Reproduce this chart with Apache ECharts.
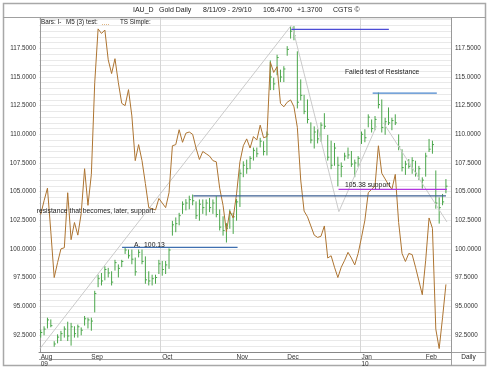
<!DOCTYPE html>
<html>
<head>
<meta charset="utf-8">
<title>IAU_D Gold Daily</title>
<script src="https://cdn.jsdelivr.net/npm/echarts@6/dist/echarts.min.js"></script>
<style>
  html, body { margin: 0; padding: 0; background: #fff; }
  #chart { width: 490px; height: 368px; }
</style>
</head>
<body>
<div id="chart"></div>
<script>
// x slots: one per trading day, 8/11/09 .. 2/9/10, plus one empty slot at the right
const slotCount = 122;
const monthNames = ['Aug', 'Sep', 'Oct', 'Nov', 'Dec', 'Jan', 'Feb'];
const monthStarts = [0, 15, 36, 58, 73, 95, 114];
const yearNames = ['09', '10'];
const yearStarts = [0, 95];
const priceLabels = [92.5, 95, 97.5, 100, 102.5, 105, 107.5, 110, 112.5, 115, 117.5];

// daily bars (high / low / close)
const barHigh = [
  92.9, 93.2, 93.95, 93.8, 91.9, 92.5, 92.8, 93.2, 93.6, 93.5,
  93.2, 93.35, 93.1, 94.1, 93.95, 93.95, 96.3, 97.7, 97.85, 98.45,
  98.3, 98.0, 99.0, 98.6, 99.0, 100.05, 99.9, 99.9, 99.2, 99.9,
  99.9, 99.3, 98.0, 97.7, 97.7, 99.0, 98.9, 98.9, 100.0, 102.4,
  102.7, 103.1, 104.1, 104.3, 104.6, 104.7, 104.1, 104.27, 104.27, 104.27,
  104.4, 104.27, 104.56, 103.4, 102.8, 102.2, 103.4, 103.1, 104.3, 106.9,
  107.6, 107.75, 108.05, 108.8, 108.8, 109.65, 109.35, 110.2, 116.4, 114.9,
  116.9, 115.6, 115.9, 117.65, 119.4, 119.4, 117.2, 114.75, 113.4, 113.0,
  111.0, 110.65, 110.4, 111.0, 111.8, 109.9, 109.4, 109.2, 108.0, 107.5,
  108.35, 108.8, 108.5, 107.75, 108.05, 110.2, 110.4, 111.7, 111.25, 111.55,
  113.6, 113.0, 111.4, 112.3, 111.4, 111.7, 109.95, 108.65, 107.65, 107.8,
  107.95, 107.65, 107.2, 106.2, 108.35, 109.55, 109.4, 106.8, 104.45, 104.75,
  106.05
];
const barLow = [
  92.3, 92.5, 93.1, 93.2, 91.5, 91.8, 92.0, 92.3, 92.0, 91.6,
  92.3, 92.3, 92.5, 93.35, 93.1, 92.9, 94.5, 96.7, 96.85, 97.3,
  97.55, 96.85, 98.15, 97.55, 98.45, 99.6, 99.2, 98.7, 97.7, 99.3,
  98.7, 97.0, 96.85, 96.85, 97.0, 97.85, 97.7, 97.85, 98.3, 101.2,
  101.5, 102.1, 103.1, 103.4, 103.5, 103.85, 102.65, 102.5, 103.1, 102.95,
  103.25, 103.1, 102.8, 101.65, 101.2, 100.6, 101.8, 101.35, 102.5, 103.7,
  106.3, 106.6, 107.0, 107.75, 108.05, 108.9, 108.2, 108.2, 113.9, 113.9,
  115.2, 114.6, 114.6, 116.9, 118.4, 118.25, 112.3, 113.0, 111.8, 111.0,
  109.25, 108.8, 109.25, 109.4, 110.5, 107.75, 107.0, 107.3, 105.5, 106.3,
  107.75, 107.9, 107.2, 106.3, 107.2, 109.2, 109.35, 110.65, 110.2, 110.4,
  112.3, 110.2, 110.0, 110.85, 110.4, 110.85, 108.65, 106.8, 106.5, 107.05,
  106.6, 106.35, 106.05, 105.3, 106.35, 108.5, 108.35, 103.55, 102.25, 103.85,
  104.9
];
const barClose = [
  92.7, 93.0, 93.8, 93.3, 91.7, 92.3, 92.6, 93.0, 92.4, 93.2,
  92.6, 93.2, 92.9, 93.9, 93.8, 93.7, 96.1, 97.4, 97.2, 98.2,
  97.9, 97.1, 98.8, 98.3, 98.9, 99.9, 99.4, 99.1, 98.0, 99.7,
  98.9, 97.3, 97.2, 97.4, 97.5, 98.7, 98.2, 98.6, 99.9, 102.1,
  102.2, 102.9, 103.9, 104.0, 104.3, 104.2, 102.9, 103.9, 103.6, 104.0,
  103.6, 104.0, 103.0, 101.9, 101.6, 101.8, 103.1, 102.8, 104.1, 106.6,
  107.3, 107.0, 107.9, 108.6, 108.3, 109.4, 108.5, 110.0, 115.0, 114.4,
  116.7, 115.0, 115.7, 117.4, 119.0, 118.6, 112.8, 113.4, 112.0, 111.3,
  109.5, 110.2, 109.6, 110.8, 110.7, 108.0, 107.3, 108.8, 107.3, 107.2,
  108.1, 108.2, 107.4, 107.5, 107.9, 110.0, 109.7, 111.5, 110.5, 111.3,
  112.6, 110.6, 111.1, 111.0, 111.2, 111.0, 108.9, 107.1, 107.4, 107.2,
  107.7, 106.6, 107.0, 106.0, 108.1, 108.7, 109.1, 104.0, 103.6, 104.1,
  105.47
];

// M5 (3) test study, drawn on the price scale
const m5Line = [
  103.0, 104.2, 105.3, 101.5, 97.5, 98.8, 100.0, 100.1, 104.9, 100.8,
  102.3, 101.2, 103.1, 107.0, 103.8, 106.5, 114.5, 119.2, 118.8, 119.1,
  116.5, 115.3, 116.6, 114.5, 112.7, 112.5, 113.9, 111.6, 107.7, 109.1,
  107.7, 105.7, 103.6, 103.5, 103.4, 104.4, 104.0, 103.6, 104.9, 109.0,
  109.1, 110.4, 109.3, 110.1, 110.2, 110.0, 108.8, 107.8, 108.5, 108.3,
  108.1, 107.7, 107.6, 105.3, 103.8, 101.5, 103.3, 102.7, 104.8, 107.6,
  109.0, 109.6, 108.8, 109.8, 109.5, 110.8, 109.7, 109.8, 116.3, 115.4,
  115.9, 112.7, 112.4, 112.8, 113.0, 112.4, 110.6, 106.0, 103.3, 102.8,
  102.0, 101.2, 101.0, 101.1, 102.0, 99.2, 99.4, 98.4, 97.5, 98.4,
  99.0, 99.7, 99.2, 98.6, 99.6, 101.0, 102.5, 104.9, 105.2, 105.5,
  109.0, 106.6, 106.1, 105.6, 105.2, 106.5, 102.3, 99.6, 98.9, 99.6,
  99.5, 98.4, 97.2, 96.0, 99.0, 102.7, 101.8, 93.0, 91.3, 94.0,
  96.9
];

// hand drawn lines, [bar index, price]
const trendUp = [[-0.2, 91.3], [74.2, 119.5]];
const trendDown = [[74.5, 119.4], [88.3, 103.25]];
const trendRebound = [[88.3, 103.25], [99.4, 110.7]];
const trendFall = [[101.5, 111.0], [120.3, 102.35]];
const lineA = [[24.1, 100.13], [58.3, 100.13]];
const lineMid = [[45.2, 104.62], [120.0, 104.62]];
const lineTop = [[74.2, 119.15], [103.1, 119.15]];
const lineFailed = [[98.3, 113.6], [117.3, 113.6]];
const lineSupport = [[88.2, 105.2], [120.3, 105.2]];

const FONT = '"Liberation Sans", Arial, sans-serif';
const categories = Array.from({ length: slotCount }, (_, i) => String(i));
const barRows = barHigh.map((h, i) => [i, h, barLow[i], barClose[i]]);

const chart = echarts.init(document.getElementById('chart'));

const drawLine = (data, color, width) => ({
  type: 'line',
  xAxisIndex: 1,
  data: data,
  symbol: 'none',
  silent: true,
  lineStyle: { color: color, width: width || 1 },
});

const option = {
  animation: false,
  grid: { left: 39, right: 39, top: 18, bottom: 16 },
  xAxis: [
    {
      // month labels and separators
      type: 'category',
      position: 'bottom',
      data: categories,
      boundaryGap: true,
      axisLine: { lineStyle: { color: '#888', width: 1 } },
      axisTick: {
        length: 7,
        interval: (i) => monthStarts.includes(i),
        lineStyle: { color: '#888' },
      },
      axisLabel: {
        interval: (i) => monthStarts.includes(i),
        formatter: (v) => {
          const k = monthStarts.indexOf(Number(v));
          return k >= 0 ? monthNames[k] : '';
        },
        align: 'left',
        margin: 1.5,
        fontSize: 6.5,
        fontFamily: FONT,
        color: '#333',
      },
      splitLine: {
        show: true,
        interval: (i) => i === monthStarts[2] || i === monthStarts[5],
        lineStyle: { color: '#d6d6d6', width: 1 },
      },
    },
    {
      // numeric twin of the day axis, used by all series
      type: 'value',
      position: 'bottom',
      show: false,
      min: -0.5,
      max: slotCount - 0.5,
    },
    {
      // year row
      type: 'category',
      position: 'bottom',
      data: categories,
      axisLine: { show: false },
      axisTick: {
        length: 14,
        interval: (i) => yearStarts.includes(i),
        lineStyle: { color: '#888' },
      },
      axisLabel: {
        interval: (i) => yearStarts.includes(i),
        formatter: (v) => {
          const k = yearStarts.indexOf(Number(v));
          return k >= 0 ? yearNames[k] : '';
        },
        align: 'left',
        margin: 8.5,
        fontSize: 6.5,
        fontFamily: FONT,
        color: '#333',
      },
      splitLine: { show: false },
    },
    {
      // weekly ticks along the date axis
      type: 'category',
      position: 'bottom',
      data: categories,
      axisLine: { show: false },
      axisTick: { inside: true, length: 2, interval: 4, lineStyle: { color: '#999' } },
      axisLabel: { show: false },
      splitLine: { show: false },
    },
  ],
  yAxis: [
    {
      type: 'value',
      position: 'left',
      min: 91,
      max: 120.15,
      interval: 0.5,
      axisLine: { show: true, lineStyle: { color: '#999' } },
      axisTick: { show: false },
      axisLabel: {
        formatter: (v) => (priceLabels.some((t) => Math.abs(t - v) < 1e-6) ? v.toFixed(4) : ''),
        margin: 3,
        fontSize: 6.3,
        fontFamily: FONT,
        color: '#333',
      },
      splitLine: { show: true, lineStyle: { color: '#e9e9e9', width: 1 } },
    },
    {
      type: 'value',
      position: 'right',
      min: 91,
      max: 120.15,
      interval: 0.5,
      axisLine: { show: true, lineStyle: { color: '#999' } },
      axisTick: { show: false },
      axisLabel: {
        formatter: (v) => (priceLabels.some((t) => Math.abs(t - v) < 1e-6) ? v.toFixed(4) : ''),
        margin: 4,
        fontSize: 6.3,
        fontFamily: FONT,
        color: '#333',
      },
      splitLine: { show: false },
    },
  ],
  series: [
    {
      // high-low bars with close tick
      type: 'custom',
      xAxisIndex: 1,
      data: barRows,
      encode: { x: 0, y: [1, 2, 3] },
      silent: true,
      renderItem: (params, api) => {
        const x = api.value(0);
        const hi = api.coord([x, api.value(1)]);
        const lo = api.coord([x, api.value(2)]);
        const cl = api.coord([x, api.value(3)]);
        const style = { stroke: '#4aa64a', lineWidth: 1 };
        return {
          type: 'group',
          children: [
            { type: 'line', shape: { x1: hi[0], y1: hi[1] - 0.5, x2: lo[0], y2: lo[1] + 0.5 }, style },
            { type: 'line', shape: { x1: cl[0], y1: cl[1], x2: cl[0] + 1.6, y2: cl[1] }, style },
          ],
        };
      },
    },
    drawLine(trendUp, '#cacaca'),
    drawLine(trendDown, '#cacaca'),
    drawLine(trendRebound, '#cacaca'),
    drawLine(trendFall, '#cacaca'),
    {
      type: 'line',
      name: 'M5 (3) test',
      xAxisIndex: 1,
      data: m5Line.map((v, i) => [i, v]),
      symbol: 'none',
      silent: true,
      lineStyle: { color: '#ad7431', width: 1 },
    },
    drawLine(lineA, '#3f6fb0', 1.3),
    drawLine(lineMid, '#3d5f92', 1.3),
    drawLine(lineTop, '#4c4cd6', 1.3),
    drawLine(lineFailed, '#4a86cc', 1.3),
    drawLine(lineSupport, '#b236e0', 1.3),
  ],
};

chart.setOption(option);

// annotation texts anchored to the price scale
const px = (x, y) => chart.convertToPixel({ seriesIndex: 5 }, [x, y]);
const note = (text, pos, size) => ({
  type: 'text',
  x: pos[0],
  y: pos[1],
  silent: true,
  z: 10,
  style: {
    text: text,
    fill: '#222',
    fontSize: size || 6.8,
    fontFamily: FONT,
    textAlign: 'left',
    textVerticalAlign: 'middle',
    align: 'left',
    verticalAlign: 'middle',
  },
});
const label = (text, x, y, size, align) => {
  const el = note(text, [x, y], size);
  el.style.textAlign = align || 'left';
  el.style.align = align || 'left';
  return el;
};
const frame = (x1, y1, x2, y2) => ({
  type: 'line',
  silent: true,
  shape: { x1, y1, x2, y2 },
  style: { stroke: '#a0a0a0', lineWidth: 1 },
});

chart.setOption({
  graphic: [
    {
      type: 'rect',
      silent: true,
      shape: { x: 3.5, y: 3.5, width: 482, height: 362 },
      style: { fill: 'none', stroke: '#a8a8a8', lineWidth: 1.5 },
    },
    frame(3, 17.5, 486, 17.5),
    frame(39, 359.5, 451, 359.5),
    frame(451.5, 352, 451.5, 366),
    frame(451, 352.5, 486, 352.5),
    // header
    label('IAU_D', 133, 10, 7),
    label('Gold Daily', 159, 10, 7),
    label('8/11/09 - 2/9/10', 203, 10, 7),
    label('105.4700', 263, 10, 7),
    label('+1.3700', 297, 10, 7),
    label('CGTS \u00a9', 333, 10, 7),
    // study legend
    label('Bars: I-', 41, 22.5, 6.3),
    label('M5 (3) test:', 66, 22.5, 6.3),
    {
      type: 'line',
      silent: true,
      shape: { x1: 102, y1: 24.5, x2: 110, y2: 24.5 },
      style: { stroke: '#e2b886', lineWidth: 1, lineDash: [1, 1] },
    },
    label('TS Simple:', 120, 22.5, 6.3),
    label('Daily', 468.5, 357.5, 6.5, 'center'),
    // chart notes
    note('Failed test of Resistance', px(90.1, 115.4)),
    note('105.38 support', px(90.1, 105.6)),
    note('A.  100.13', px(27.6, 100.33)),
    note('resistance that becomes, later, support.', px(-1.2, 103.3)),
  ],
});
</script>
</body>
</html>
